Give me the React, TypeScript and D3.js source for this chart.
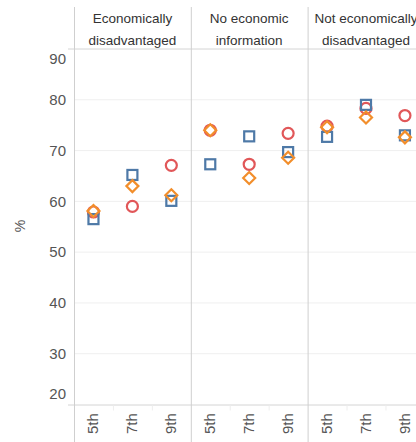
import React from "react";
import * as d3 from "d3";

const groups = ["Economically disadvantaged", "No economic information", "Not economically disadvantaged"];
const groupLines = [
  ["Economically", "disadvantaged"],
  ["No economic", "information"],
  ["Not economically", "disadvantaged"],
];
const grades = ["5th", "7th", "9th"];

// values per group, in grade order
const squareValues = [
  [56.5, 65.2, 60.1],
  [67.3, 72.8, 69.7],
  [72.7, 79.0, 73.0],
];
const circleValues = [
  [57.9, 59.0, 67.1],
  [74.0, 67.3, 73.4],
  [74.8, 78.3, 76.9],
];
const diamondValues = [
  [58.1, 63.0, 61.2],
  [74.0, 64.6, 68.6],
  [74.6, 76.5, 72.6],
];
const yTicks = [20, 30, 40, 50, 60, 70, 80, 90];

const width = 416;
const height = 442;
const left = 74;
const top = 49;
const bottom = 404.5;
const panelW = 116.8;

const BLUE = "#4e79a7";
const RED = "#e15759";
const ORANGE = "#f28e2b";

export default function App() {
  const y = d3.scaleLinear().domain([20, 90]).range([bottom, top]);
  const xPanel = d3.scaleBand<string>().domain(groups).range([left, left + panelW * 3]);
  const xGrade = d3.scaleBand<string>().domain(grades).range([0, xPanel.bandwidth()]);
  const cx = (gi: number, ki: number) =>
    (xPanel(groups[gi]) ?? 0) + (xGrade(grades[ki]) ?? 0) + xGrade.bandwidth() / 2;

  const font = "'Liberation Sans', Arial, sans-serif";

  return (
    <div style={{ position: "fixed", left: 0, top: 0, width, height, background: "#fff" }}>
      <svg width={width} height={height} style={{ display: "block" }} fontFamily={font}>
        {/* gridlines */}
        {yTicks
          .filter((t) => t > 20 && t < 90)
          .map((t) => (
            <line key={`g${t}`} x1={left} x2={width} y1={y(t)} y2={y(t)} stroke="#efefef" strokeWidth={1} />
          ))}

        {/* y axis labels */}
        {yTicks.map((t) => {
          let yy = y(t);
          if (t === 90) yy += 10;
          if (t === 20) yy -= 11;
          return (
            <text key={`t${t}`} x={66} y={yy} dy="0.35em" textAnchor="end" fontSize={15} fill="#555">
              {t}
            </text>
          );
        })}
        <text transform={`translate(25,226) rotate(-90)`} textAnchor="middle" fontSize={14} fill="#555">
          %
        </text>

        {/* header + axis lines */}
        <line x1={68} x2={width} y1={top} y2={top} stroke="#d4d4d4" />
        <line x1={68} x2={width} y1={bottom + 0.5} y2={bottom + 0.5} stroke="#d4d4d4" />

        {groups.map((g, gi) => {
          const x0 = xPanel(g) ?? 0;
          return (
            <g key={g}>
              <line x1={x0 + 0.5} x2={x0 + 0.5} y1={7} y2={height} stroke="#cfcfcf" />
              {groupLines[gi].map((s, li) => (
                <text
                  key={s}
                  x={x0 + panelW / 2}
                  y={23 + li * 22}
                  textAnchor="middle"
                  fontSize={13.5}
                  fill="#333"
                >
                  {s}
                </text>
              ))}
              {grades.map((k, ki) => {
                const bx = x0 + (xGrade(k) ?? 0);
                return (
                  <g key={k}>
                    {ki > 0 && (
                      <line x1={bx + 0.5} x2={bx + 0.5} y1={bottom + 1} y2={bottom + 6} stroke="#eeeeee" />
                    )}
                    <text
                      transform={`translate(${cx(gi, ki) + 5},${434}) rotate(-90)`}
                      fontSize={15}
                      fill="#555"
                    >
                      {k}
                    </text>
                  </g>
                );
              })}
            </g>
          );
        })}

        {/* marks */}
        {groups.map((g, gi) =>
          grades.map((k, ki) => {
            const x = cx(gi, ki);
            const yc = y(circleValues[gi][ki]);
            const ys = y(squareValues[gi][ki]);
            const yd = y(diamondValues[gi][ki]);
            return (
              <g key={`${g}-${k}`} fill="none" strokeWidth={2.2}>
                <circle cx={x} cy={yc} r={5.5} stroke={RED} />
                <rect x={x - 5} y={ys - 5} width={10} height={10} stroke={BLUE} />
                <path
                  d={`M${x},${yd - 6}L${x + 6},${yd}L${x},${yd + 6}L${x - 6},${yd}Z`}
                  stroke={ORANGE}
                />
              </g>
            );
          })
        )}
      </svg>
    </div>
  );
}
